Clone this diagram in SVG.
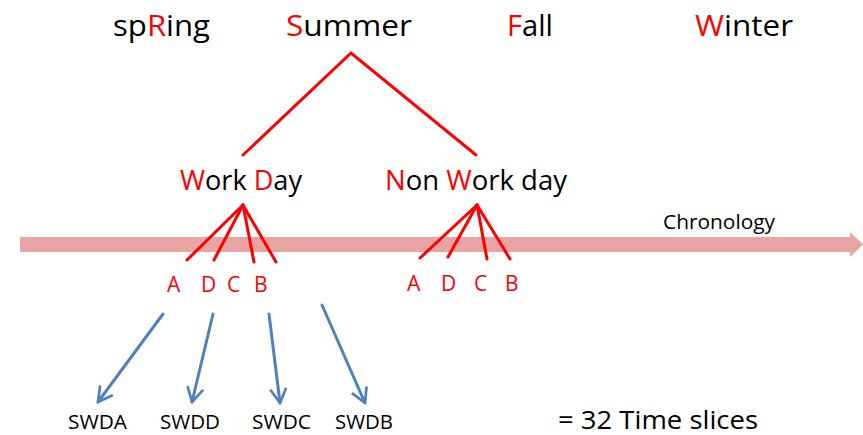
<svg xmlns="http://www.w3.org/2000/svg" width="863" height="435" viewBox="0 0 863 435">
<defs>
<style>
text{font-family:"Open Sans","Liberation Sans",sans-serif;fill:#000}
.r{fill:#FF0000}
.t{font-size:30px}
.d{font-size:27px}
.l{font-size:21px;fill:#FF0000}
.s{font-size:20px}
.red{stroke:#FF0000;stroke-width:3;fill:none;stroke-linecap:round}
.blue{stroke:#4F81BD;stroke-width:3;fill:none;stroke-linecap:round}
</style>
<marker id="ah" viewBox="0 0 12 12" refX="10" refY="6" markerWidth="6" markerHeight="6" orient="auto" markerUnits="strokeWidth">
<path d="M1,1 L10,6 L1,11" fill="none" stroke="#4F81BD" stroke-width="1.8" stroke-linecap="round" stroke-linejoin="round"/>
</marker>
</defs>
<rect width="863" height="435" fill="#fff"/>
<g id="chronology">
<path d="M20,237 H850 V232 L863,244.5 L850,257 V252 H20 Z" fill="#E8A3A3"/>
<text x="663" y="229" font-size="20" textLength="112" lengthAdjust="spacingAndGlyphs">Chronology</text>
</g>
<g id="connectors">
<polyline class="red" points="243,155 351,53 476,155"/>
<line class="red" x1="243" y1="205" x2="187" y2="260"/>
<line class="red" x1="243" y1="205" x2="214" y2="260"/>
<line class="red" x1="243" y1="205" x2="254" y2="262"/>
<line class="red" x1="243" y1="205" x2="276" y2="262"/>
<line class="red" x1="477" y1="205" x2="420" y2="258"/>
<line class="red" x1="477" y1="205" x2="448" y2="257"/>
<line class="red" x1="477" y1="205" x2="487" y2="259"/>
<line class="red" x1="477" y1="205" x2="510" y2="259"/>
<line class="blue" x1="163" y1="314" x2="98" y2="402" marker-end="url(#ah)"/>
<line class="blue" x1="213" y1="314" x2="192" y2="402" marker-end="url(#ah)"/>
<line class="blue" x1="269" y1="314" x2="280" y2="403" marker-end="url(#ah)"/>
<line class="blue" x1="322" y1="305" x2="365" y2="403" marker-end="url(#ah)"/>
</g>
<g id="spring"><text class="t" x="113" y="36" textLength="97" lengthAdjust="spacingAndGlyphs">sp<tspan class="r">R</tspan>ing</text></g>
<g id="summer"><text class="t" x="286" y="36" textLength="126" lengthAdjust="spacingAndGlyphs"><tspan class="r">S</tspan>ummer</text></g>
<g id="fall"><text class="t" x="507" y="36" textLength="46" lengthAdjust="spacingAndGlyphs"><tspan class="r">F</tspan>all</text></g>
<g id="winter"><text class="t" x="695" y="36" textLength="98" lengthAdjust="spacingAndGlyphs"><tspan class="r">W</tspan>inter</text></g>
<g id="workday"><text class="d" x="180" y="190" textLength="122" lengthAdjust="spacingAndGlyphs"><tspan class="r">W</tspan>ork <tspan class="r">D</tspan>ay</text></g>
<g id="nonworkday"><text class="d" x="385" y="190" textLength="182" lengthAdjust="spacingAndGlyphs"><tspan class="r">N</tspan>on <tspan class="r">W</tspan>ork day</text></g>
<g id="wd-letters">
<text class="l" x="167" y="292">A</text>
<text class="l" x="201" y="292">D</text>
<text class="l" x="227" y="292">C</text>
<text class="l" x="254" y="292">B</text>
</g>
<g id="nwd-letters">
<text class="l" x="407" y="291">A</text>
<text class="l" x="441" y="291">D</text>
<text class="l" x="474" y="291">C</text>
<text class="l" x="505" y="291">B</text>
</g>
<g id="swda"><text class="s" x="68" y="429" textLength="59" lengthAdjust="spacingAndGlyphs">SWDA</text></g>
<g id="swdd"><text class="s" x="160" y="429" textLength="60" lengthAdjust="spacingAndGlyphs">SWDD</text></g>
<g id="swdc"><text class="s" x="252" y="429" textLength="59" lengthAdjust="spacingAndGlyphs">SWDC</text></g>
<g id="swdb"><text class="s" x="335" y="429" textLength="58" lengthAdjust="spacingAndGlyphs">SWDB</text></g>
<g id="timeslices"><text x="558" y="429" font-size="25" textLength="200" lengthAdjust="spacingAndGlyphs">= 32 Time slices</text></g>
</svg>
